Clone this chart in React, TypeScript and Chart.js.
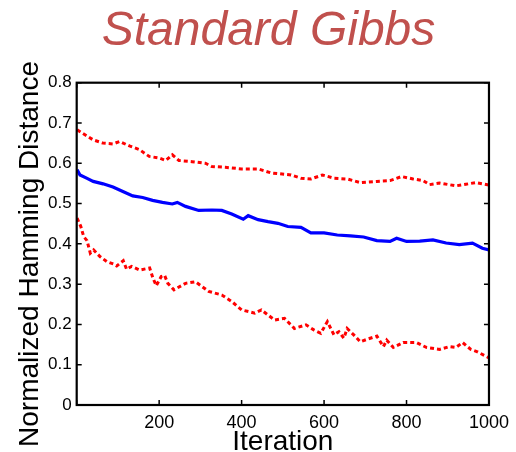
import React, { useEffect, useRef } from "react";
import { Chart, registerables } from "chart.js";

Chart.register(...registerables);

const titleText = "Standard Gibbs";
const xTitle = "Iteration";
const yTitle = "Normalized Hamming Distance";
const xTicks = [0, 200, 400, 600, 800, 1000];
const yTicks = [0, 0.1, 0.2, 0.3, 0.4, 0.5, 0.6, 0.7, 0.8];

const upperIter = [1, 40, 64, 88, 104, 128, 152, 176, 200, 216, 232, 248, 280, 312, 328, 360, 400, 440, 472, 520, 544, 568, 596, 624, 656, 688, 728, 760, 788, 816, 840, 856, 880, 920, 944, 968, 1000];
const upperVal = [0.683, 0.658, 0.65, 0.648, 0.654, 0.643, 0.634, 0.617, 0.613, 0.607, 0.621, 0.607, 0.604, 0.6, 0.592, 0.59, 0.586, 0.586, 0.576, 0.571, 0.563, 0.561, 0.571, 0.563, 0.561, 0.552, 0.555, 0.557, 0.567, 0.561, 0.557, 0.547, 0.551, 0.544, 0.548, 0.552, 0.546];

const meanIter = [1, 8, 24, 40, 64, 88, 112, 136, 160, 184, 208, 232, 244, 264, 296, 328, 352, 376, 404, 416, 440, 464, 488, 512, 544, 568, 600, 632, 664, 696, 728, 760, 776, 800, 832, 864, 896, 928, 960, 984, 1000];
const meanVal = [0.584, 0.571, 0.563, 0.555, 0.549, 0.541, 0.53, 0.519, 0.515, 0.508, 0.503, 0.499, 0.503, 0.493, 0.483, 0.484, 0.483, 0.474, 0.461, 0.47, 0.46, 0.455, 0.451, 0.443, 0.441, 0.427, 0.427, 0.422, 0.42, 0.417, 0.408, 0.406, 0.414, 0.406, 0.407, 0.41, 0.402, 0.398, 0.402, 0.389, 0.385];

const lowerIter = [1, 10, 17, 25, 33, 41, 57, 73, 89, 97, 113, 121, 133, 153, 177, 185, 193, 205, 213, 221, 236, 264, 288, 320, 352, 376, 400, 432, 448, 480, 504, 528, 556, 576, 592, 608, 624, 636, 648, 656, 672, 688, 704, 728, 744, 752, 768, 792, 824, 848, 880, 904, 920, 936, 956, 972, 1000];
const lowerVal = [0.464, 0.443, 0.418, 0.408, 0.377, 0.385, 0.368, 0.356, 0.35, 0.345, 0.358, 0.337, 0.344, 0.335, 0.34, 0.315, 0.296, 0.319, 0.322, 0.302, 0.286, 0.302, 0.306, 0.282, 0.273, 0.257, 0.236, 0.228, 0.236, 0.211, 0.215, 0.19, 0.199, 0.186, 0.178, 0.207, 0.174, 0.182, 0.166, 0.19, 0.174, 0.157, 0.163, 0.171, 0.145, 0.161, 0.143, 0.155, 0.155, 0.143, 0.138, 0.145, 0.143, 0.155, 0.138, 0.132, 0.117];

const toPoints = (xs: number[], ys: number[]) => xs.map((x, i) => ({ x, y: ys[i] }));

const FONT = "'Liberation Sans', Arial, Helvetica, sans-serif";

const framePlugin = {
  id: "frame",
  afterDraw(chart: any) {
    const { ctx, chartArea: a, scales } = chart;
    const xs = scales.x;
    const ys = scales.y;
    ctx.save();
    ctx.strokeStyle = "#000";
    ctx.lineWidth = 1.5;
    const tl = 5;
    ctx.beginPath();
    xTicks.forEach((v) => {
      const px = xs.getPixelForValue(v);
      ctx.moveTo(px, a.bottom);
      ctx.lineTo(px, a.bottom - tl);
      ctx.moveTo(px, a.top);
      ctx.lineTo(px, a.top + tl);
    });
    yTicks.forEach((v) => {
      const py = ys.getPixelForValue(v);
      ctx.moveTo(a.left, py);
      ctx.lineTo(a.left + tl, py);
      ctx.moveTo(a.right, py);
      ctx.lineTo(a.right - tl, py);
    });
    ctx.stroke();
    ctx.lineWidth = 2.2;
    ctx.strokeRect(a.left, a.top, a.right - a.left, a.bottom - a.top);

    // title
    ctx.fillStyle = "#c0504d";
    ctx.font = `italic 48px ${FONT}`;
    ctx.textAlign = "center";
    ctx.textBaseline = "alphabetic";
    ctx.fillText(titleText, 268.5, 45);

    // x title
    ctx.fillStyle = "#000";
    ctx.font = `28px ${FONT}`;
    ctx.fillText(xTitle, (a.left + a.right) / 2, 450);

    // y title
    ctx.translate(38, 254);
    ctx.rotate(-Math.PI / 2);
    ctx.fillText(yTitle, 0, 0);
    ctx.restore();
  },
};

export default function App() {
  const ref = useRef<HTMLCanvasElement>(null);
  useEffect(() => {
    document.body.style.margin = "0";
    const canvas = ref.current!;
    const chart = new Chart(canvas, {
      type: "line",
      data: {
        datasets: [
          {
            data: toPoints(upperIter, upperVal),
            borderColor: "#ff0000",
            borderWidth: 3,
            borderDash: [4, 3],
            pointRadius: 0,
            tension: 0,
          },
          {
            data: toPoints(meanIter, meanVal),
            borderColor: "#0000ff",
            borderWidth: 3.2,
            pointRadius: 0,
            tension: 0,
          },
          {
            data: toPoints(lowerIter, lowerVal),
            borderColor: "#ff0000",
            borderWidth: 3,
            borderDash: [4, 3],
            pointRadius: 0,
            tension: 0,
          },
        ],
      },
      options: {
        animation: false,
        responsive: false,
        maintainAspectRatio: false,
        layout: { padding: { top: 82.7, right: 22.6, left: 0, bottom: 0 } },
        plugins: { legend: { display: false }, tooltip: { enabled: false }, title: { display: false } },
        scales: {
          x: {
            type: "linear",
            min: 0,
            max: 1000,
            grid: { display: false, drawTicks: false },
            border: { display: false },
            afterFit: (s: any) => {
              s.height = 47;
            },
            afterBuildTicks: (s: any) => {
              s.ticks = xTicks.map((v) => ({ value: v }));
            },
            ticks: {
              color: "#000",
              padding: 7,
              maxRotation: 0,
              font: { family: FONT, size: 18 },
              callback: (v: any) => (v === 0 ? "" : String(v)),
            },
          },
          y: {
            min: 0,
            max: 0.8,
            grid: { display: false, drawTicks: false },
            border: { display: false },
            afterFit: (s: any) => {
              s.width = 76.7;
            },
            afterBuildTicks: (s: any) => {
              s.ticks = yTicks.map((v) => ({ value: v }));
            },
            ticks: {
              color: "#000",
              padding: 5,
              font: { family: FONT, size: 17 },
              callback: (v: any) => String(Math.round(Number(v) * 10) / 10),
            },
          },
        },
      },
      plugins: [framePlugin],
    });
    return () => chart.destroy();
  }, []);
  return (
    <div style={{ width: 516, height: 452 }}>
      <canvas ref={ref} width={516} height={452} style={{ display: "block" }} />
    </div>
  );
}
